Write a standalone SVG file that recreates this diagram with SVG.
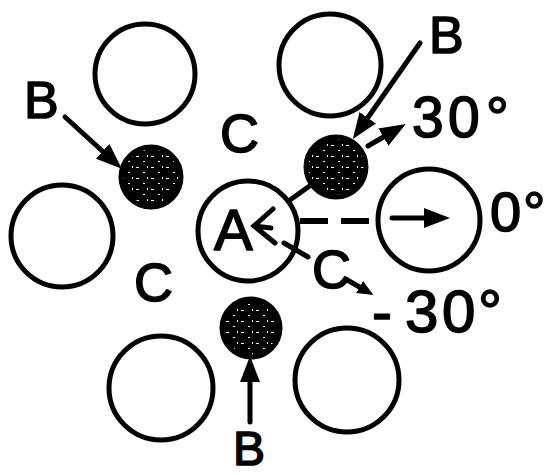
<svg xmlns="http://www.w3.org/2000/svg" width="547" height="475" viewBox="0 0 547 475">
<style>
.ring{fill:#fff;stroke:#000;stroke-width:5}
.dot{fill:url(#speck);stroke:#000;stroke-width:5}
.lbl{font-family:"Liberation Sans",Arial,sans-serif;fill:#000;stroke:#000;stroke-width:1.6;stroke-linejoin:round}
.ln{stroke:#000;stroke-width:5;fill:none;stroke-linecap:round}
</style>
<defs>
<pattern id="speck" width="15" height="11" patternUnits="userSpaceOnUse">
<rect width="15" height="11" fill="#000"/>
<rect x="1" y="2" width="3" height="1" fill="#fff"/>
<rect x="8" y="7" width="2" height="1" fill="#fff"/>
<rect x="12" y="1" width="1" height="2" fill="#fff"/>
</pattern>
<marker id="ah" markerUnits="userSpaceOnUse" markerWidth="26" markerHeight="20" refX="10" refY="10" orient="auto" viewBox="0 0 26 20">
<path d="M0,0 L26,10 L0,20 z" fill="#000"/>
</marker>
<marker id="ahs" markerUnits="userSpaceOnUse" markerWidth="16" markerHeight="14" refX="4" refY="7" orient="auto" viewBox="0 0 16 14">
<path d="M0,0 L16,7 L0,14 z" fill="#000"/>
</marker>
</defs>
<rect width="547" height="475" fill="#fff"/>

<g id="ring-top-left"><circle class="ring" cx="145" cy="74" r="50"/></g>
<g id="ring-top-right"><circle class="ring" cx="330" cy="65" r="51"/></g>
<g id="ring-left"><circle class="ring" cx="62" cy="236" r="51"/></g>
<g id="ring-right"><circle class="ring" cx="429" cy="220" r="51"/></g>
<g id="ring-bottom-left"><circle class="ring" cx="161" cy="388" r="52"/></g>
<g id="ring-bottom-right"><circle class="ring" cx="347" cy="380" r="52"/></g>
<g id="node-A"><circle class="ring" cx="248" cy="231" r="50"/><text class="lbl" x="214" y="250" font-size="58">A</text></g>

<g id="dot-B-left"><circle class="dot" cx="151" cy="177" r="30"/></g>
<g id="dot-B-top"><circle class="dot" cx="336" cy="167" r="30"/></g>
<g id="dot-B-bottom"><circle class="dot" cx="251" cy="328" r="29"/></g>

<g id="connectors">
<line class="ln" x1="65" y1="117" x2="110" y2="158" marker-end="url(#ah)"/>
<line class="ln" x1="420" y1="43" x2="362" y2="126" marker-end="url(#ah)"/>
<line class="ln" x1="368" y1="146" x2="392" y2="132" marker-end="url(#ah)"/>
<line class="ln" x1="392" y1="218" x2="434" y2="218" marker-end="url(#ah)"/>
<line class="ln" x1="250" y1="422" x2="250" y2="372" marker-end="url(#ah)"/>
<line class="ln" x1="349" y1="281" x2="363" y2="289" marker-end="url(#ahs)"/>
<line class="ln" x1="290" y1="200" x2="311" y2="185"/>
<line class="ln" x1="284" y1="243" x2="308" y2="257"/>
<line x1="300" y1="221" x2="372" y2="221" stroke="#000" stroke-width="6" stroke-dasharray="28 13"/>
<path class="ln" d="M273,209 L254,226 L275,243 M254,226 L271,228"/>
</g>

<g id="labels">
<text class="lbl" x="24" y="118" font-size="52">B</text>
<text class="lbl" x="429" y="53" font-size="52">B</text>
<text class="lbl" x="233" y="465" font-size="48">B</text>
<text class="lbl" x="220" y="152" font-size="54">C</text>
<text class="lbl" x="134" y="301" font-size="54">C</text>
<text class="lbl" x="312" y="288" font-size="54">C</text>
<text class="lbl" x="412 448 486" y="137" font-size="57">30°</text>
<text class="lbl" x="490 523" y="231" font-size="56">0°</text>
<text class="lbl" x="372 405 442 478" y="332" font-size="60">-30°</text>
</g>
</svg>
